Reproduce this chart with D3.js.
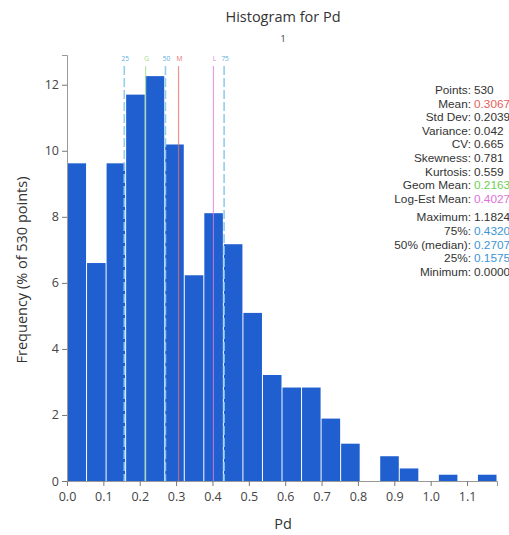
<!DOCTYPE html>
<html>
<head>
<meta charset="utf-8">
<script src="https://cdn.jsdelivr.net/npm/d3@7"></script>
<style>
  body { margin: 0; background: #fff; }
  svg text { font-family: "Open Sans", "DejaVu Sans", sans-serif; }
  svg text.stat { font-family: "Liberation Sans", Arial, sans-serif; font-size: 11.8px; }
</style>
</head>
<body>
<div id="chart"></div>
<script>
// bin frequencies (% of 530 points), 22 equal bins from min to max
const binFreq = [9.62, 6.60, 9.62, 11.70, 12.26, 10.19, 6.23, 8.11, 7.17, 5.09, 3.21,
  2.83, 2.83, 1.89, 1.13, 0, 0.75, 0.38, 0, 0.19, 0, 0.19];
const dataMin = 0.0;
const dataMax = 1.1824;
const xTicks = [0, 0.1, 0.2, 0.3, 0.4, 0.5, 0.6, 0.7, 0.8, 0.9, 1.0, 1.1];
const yTicks = [0, 2, 4, 6, 8, 10, 12];

// marker lines along the x axis
const markerLabels = ['25', 'G', '50', 'M', 'L', '75'];
const markerValues = [0.1575, 0.2163, 0.2707, 0.3067, 0.4027, 0.4320];
const markerColors = ['#8ccbec', '#9fdc8c', '#8ccbec', '#e8706a', '#e07fd4', '#8ccbec'];
const markerDashed = [true, false, true, false, false, true];

// summary statistics panel
const statLabels = ['Points', 'Mean', 'Std Dev', 'Variance', 'CV', 'Skewness', 'Kurtosis',
  'Geom Mean', 'Log-Est Mean', null, 'Maximum', '75%', '50% (median)', '25%', 'Minimum'];
const statValues = ['530', '0.3067', '0.2039', '0.042', '0.665', '0.781', '0.559',
  '0.2163', '0.4027', null, '1.1824', '0.4320', '0.2707', '0.1575', '0.0000'];
const statColors = ['#333', '#e8605a', '#333', '#333', '#333', '#333', '#333',
  '#6ccf52', '#e070d8', null, '#333', '#3d95d6', '#3d95d6', '#3d95d6', '#333'];

const width = 509;
const height = 535;
const margin = { top: 55, right: 12, bottom: 54, left: 67 };

const svg = d3.select('#chart').append('svg')
  .attr('width', width)
  .attr('height', height);

const x = d3.scaleLinear()
  .domain([dataMin, dataMax])
  .range([margin.left, width - margin.right]);

const y = d3.scaleLinear()
  .domain([0, 12.9])
  .range([height - margin.bottom, margin.top]);

const binW = (dataMax - dataMin) / binFreq.length;
const bins = binFreq.map((f, i) => ({ x0: dataMin + i * binW, x1: dataMin + (i + 1) * binW, f }));

// bars
svg.append('g')
  .selectAll('rect')
  .data(bins.filter(d => d.f > 0))
  .join('rect')
  .attr('x', d => x(d.x0) + 0.5)
  .attr('width', d => x(d.x1) - x(d.x0) - 1)
  .attr('y', d => y(d.f))
  .attr('height', d => y(0) - y(d.f))
  .attr('fill', '#1f5fcf');

// marker lines
const markers = markerValues.map((v, i) => ({
  v, label: markerLabels[i], color: markerColors[i], dashed: markerDashed[i]
}));
const mg = svg.append('g');
mg.selectAll('line')
  .data(markers)
  .join('line')
  .attr('x1', d => x(d.v))
  .attr('x2', d => x(d.v))
  .attr('y1', 66)
  .attr('y2', y(0))
  .attr('stroke', d => d.color)
  .attr('stroke-width', d => d.dashed ? 1.6 : 1.2)
  .attr('stroke-opacity', d => d.dashed ? 0.95 : 0.75)
  .attr('stroke-dasharray', d => d.dashed ? '9,3' : null);
mg.selectAll('text')
  .data(markers)
  .join('text')
  .attr('x', d => x(d.v) + 1)
  .attr('y', 61)
  .attr('text-anchor', 'middle')
  .style('font-size', '6.5px')
  .style('fill', d => d.dashed ? '#5aaee0' : d.color)
  .text(d => d.label);

// axes
const xAxis = svg.append('g')
  .attr('transform', `translate(0,${y(0)})`)
  .call(d3.axisBottom(x).tickValues(xTicks).tickFormat(d3.format('.1f')).tickSizeOuter(0).tickSize(5));
const yAxis = svg.append('g')
  .attr('transform', `translate(${margin.left},0)`)
  .call(d3.axisLeft(y).tickValues(yTicks).tickSizeOuter(0).tickSize(5));

[xAxis, yAxis].forEach(g => {
  g.select('.domain').attr('stroke', '#999');
  g.selectAll('.tick line').attr('stroke', '#777');
  g.selectAll('.tick text')
    .style('font-size', '12.5px')
    .style('fill', '#444')
    .style('font-family', '"Open Sans", sans-serif');
});
xAxis.selectAll('.tick text').attr('dy', '0.95em');

// titles
svg.append('text')
  .attr('x', 283)
  .attr('y', 22)
  .attr('text-anchor', 'middle')
  .style('font-size', '14.5px')
  .style('fill', '#333')
  .text('Histogram for Pd');

svg.append('text')
  .attr('x', 283)
  .attr('y', 42)
  .attr('text-anchor', 'middle')
  .style('font-size', '9px')
  .style('fill', '#333')
  .text('1');

svg.append('text')
  .attr('x', 283)
  .attr('y', 529)
  .attr('text-anchor', 'middle')
  .style('font-size', '14.5px')
  .style('fill', '#333')
  .text('Pd');

svg.append('text')
  .attr('transform', 'rotate(-90)')
  .attr('x', -270)
  .attr('y', 27)
  .attr('text-anchor', 'middle')
  .style('font-size', '14.5px')
  .style('fill', '#333')
  .text('Frequency (% of 530 points)');

// stats panel
const sg = svg.append('g');
let sy = 94;
statLabels.forEach((lab, i) => {
  if (lab === null) { sy += 5; return; }
  sg.append('text')
    .attr('class', 'stat')
    .attr('x', 471)
    .attr('y', sy)
    .attr('text-anchor', 'end')
    .style('fill', '#333')
    .text(lab + ':');
  sg.append('text')
    .attr('class', 'stat')
    .attr('x', 474)
    .attr('y', sy)
    .style('fill', statColors[i])
    .text(statValues[i]);
  sy += 13.6;
});
</script>
</body>
</html>
